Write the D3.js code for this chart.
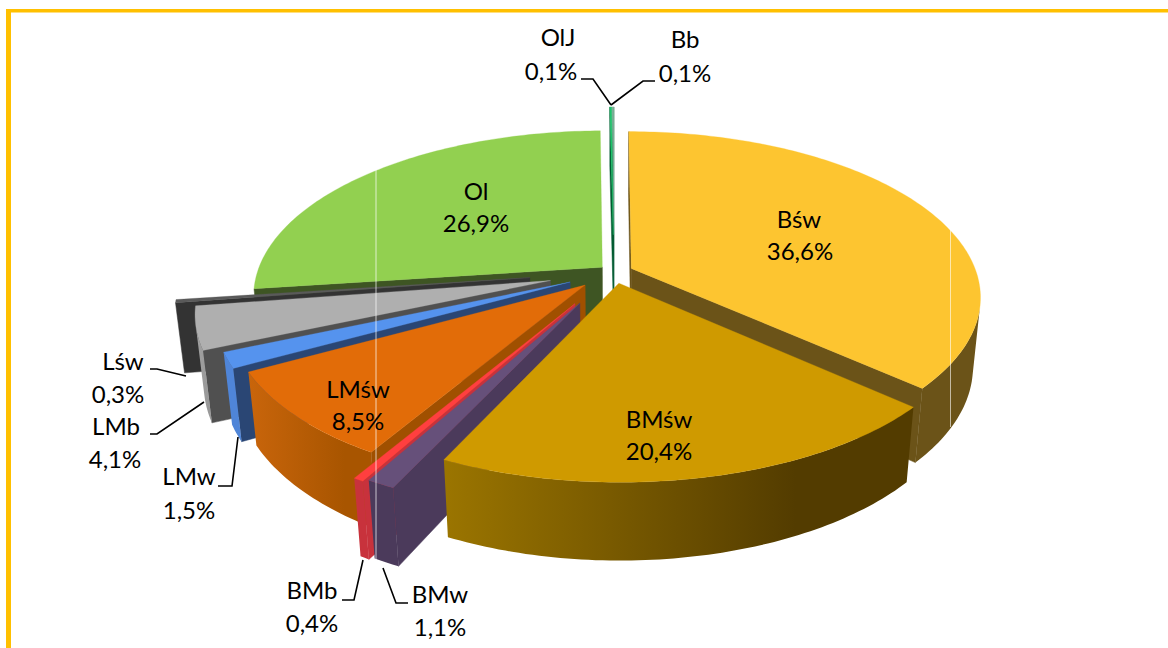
<!DOCTYPE html>
<html>
<head>
<meta charset="utf-8">
<script src="https://cdn.jsdelivr.net/npm/d3@7"></script>
<style>
  html, body { margin: 0; padding: 0; background: #fff; }
  text { font-family: Lato, "Open Sans", sans-serif; font-size: 24px; fill: #000; text-anchor: middle; }
</style>
</head>
<body>
<svg id="chart" width="1168" height="648"></svg>
<script>
// Chart values, clockwise from 12 o'clock
const categories = ['Bśw', 'BMśw', 'BMw', 'BMb', 'LMśw', 'LMw', 'LMb', 'Lśw', 'Ol', 'OlJ', 'Bb'];
const shares = [36.6, 20.4, 1.1, 0.4, 8.5, 1.5, 4.1, 0.3, 26.9, 0.1, 0.1];
const explode = [0.055, 0.07, 0.21, 0.22, 0.115, 0.14, 0.19, 0.245, 0.045, 0.24, 0.24];

// Colours per slice
const topColors = ['#fdc530', '#cf9a00', '#66507a', '#ff3f3f', '#e26c08', '#5593ee', '#afafaf', '#5a5a5a', '#92d050', '#1cc46a', '#7fb099'];
const faceColors = ['#6b5318', '#6b5318', '#4b3a5b', '#c8323c', '#a05000', '#2a4674', '#505050', '#333333', '#3e5523', '#005a30', '#005a30'];
const wallLeft = ['#6b5318', '#9b7500', '#4b3a5b', '#c8323c', '#c9650b', '#4f85d8', '#a0a0a0', '#333333', '#3e5523', '#005a30', '#005a30'];
const wallRight = ['#6b5318', '#533c00', '#4b3a5b', '#c8323c', '#a85500', '#4f85d8', '#999999', '#333333', '#3e5523', '#005a30', '#005a30'];

// Where the labels sit: [name x, name y, value x, value y]
const labelPos = [
  [799, 228, 800, 260], [659, 428, 659, 460], [440, 603, 440, 636], [312, 599, 312, 632],
  [358, 398, 358, 430], [189, 485, 189, 519], [116, 435, 115, 468], [123, 370, 118, 403],
  [476, 200, 476, 232], [558, 46, 551, 80], [685, 48, 685, 82]
];
// Leader lines, only for the small slices
const leaders = [
  [[408, 603], [396, 603], [383, 568]], [[342, 600], [354, 600], [363, 560]],
  [[218, 486], [232, 486], [238, 437]], [[150, 434], [157, 434], [204, 402]],
  [[150, 369], [157, 369], [186, 376]], [[581, 79], [593, 79], [611, 105]],
  [[655, 81], [643, 81], [611, 105]]
];

const cx = 614, cy = 272;   // pie centre on screen
const R = 345, tilt = 0.467, H = 70;  // radius, squash, thickness
const camera = 5.9, sink = 0.12;      // perspective

const svg = d3.select('#chart');
const defs = svg.append('defs');

// Gold frame of the original slide
svg.append('rect').attr('x', 6).attr('y', 9).attr('width', 1162).attr('height', 3.5).attr('fill', '#ffc000');
svg.append('rect').attr('x', 6).attr('y', 9).attr('width', 5).attr('height', 639).attr('fill', '#ffc000');

// u: right, v: towards the viewer, w: 0 on top, 1 at the bottom
function project(u, v, w) {
  const s = camera / (camera - v + sink * w);
  return [cx + R * u * s, cy + (R * tilt * v + H * w) * s];
}

const pie = d3.pie().sort(null).value(d => d);
const arcs = pie(shares).map((a, i) => {
  const mid = (a.startAngle + a.endAngle) / 2;
  return {
    i, mid,
    start: a.startAngle,
    end: a.endAngle,
    cu: explode[i] * Math.sin(mid),
    cv: -explode[i] * Math.cos(mid)
  };
});

const line = d3.line();
const rim = (d, a, w) => project(d.cu + Math.sin(a), d.cv - Math.cos(a), w);

// Back to front
const order = arcs.slice().sort((a, b) => (-Math.cos(a.mid)) - (-Math.cos(b.mid)));
const step = Math.PI / 180;

order.forEach(d => {
  const g = svg.append('g');
  const color = topColors[d.i];
  const apexT = project(d.cu, d.cv, 0);
  const apexB = project(d.cu, d.cv, 1);

  // radial faces, skip the ones turned away from us
  const startFace = [apexT, rim(d, d.start, 0), rim(d, d.start, 1), apexB];
  const endFace = [apexT, rim(d, d.end, 0), rim(d, d.end, 1), apexB];
  [startFace, endFace.slice().reverse()].forEach(f => {
    if (d3.polygonArea(f) > 0) {
      g.append('path').attr('d', line(f) + 'Z')
        .attr('fill', faceColors[d.i]).attr('stroke', faceColors[d.i]).attr('stroke-width', 0.5);
    }
  });

  // outer wall, only the stretch that faces us
  const n = Math.max(2, Math.ceil((d.end - d.start) / step));
  const angles = d3.range(n + 1).map(j => d.start + (d.end - d.start) * j / n);
  const visible = [];
  d3.range(n).forEach(j => {
    const q = [rim(d, angles[j], 0), rim(d, angles[j + 1], 0), rim(d, angles[j + 1], 1), rim(d, angles[j], 1)];
    if (d3.polygonArea(q) > 0) {
      if (!visible.length) visible.push(angles[j]);
      visible.push(angles[j + 1]);
    }
  });
  if (visible.length) {
    const wall = visible.map(a => rim(d, a, 0)).concat(visible.slice().reverse().map(a => rim(d, a, 1)));
    const xs = d3.extent(wall, p => p[0]);
    const grad = defs.append('linearGradient').attr('id', 'wall' + d.i)
      .attr('gradientUnits', 'userSpaceOnUse')
      .attr('x1', xs[0]).attr('x2', xs[1]).attr('y1', 0).attr('y2', 0);
    grad.append('stop').attr('offset', 0).attr('stop-color', wallLeft[d.i]);
    grad.append('stop').attr('offset', 0.75).attr('stop-color', wallRight[d.i]);
    g.append('path').attr('d', line(wall) + 'Z').attr('fill', 'url(#wall' + d.i + ')');
  }

  // top face
  const pts = [apexT].concat(angles.map(a => rim(d, a, 0)));
  g.append('path').attr('d', line(pts) + 'Z').attr('fill', color).attr('stroke', color).attr('stroke-width', 0.3);
});

// Thin light seams that run through the picture
svg.append('line').attr('x1', 376).attr('x2', 376).attr('y1', 168).attr('y2', 568)
  .attr('stroke', '#fff').attr('stroke-opacity', 0.7).attr('stroke-width', 1);
svg.append('line').attr('x1', 950.5).attr('x2', 950.5).attr('y1', 228).attr('y2', 427)
  .attr('stroke', '#fff').attr('stroke-opacity', 0.6).attr('stroke-width', 1);

svg.selectAll('.leader').data(leaders).enter().append('path')
  .attr('class', 'leader')
  .attr('d', d => line(d))
  .attr('fill', 'none').attr('stroke', '#000').attr('stroke-width', 1.6);

categories.forEach((name, i) => {
  const p = labelPos[i];
  svg.append('text').attr('x', p[0]).attr('y', p[1]).text(name);
  svg.append('text').attr('x', p[2]).attr('y', p[3]).text(shares[i].toFixed(1).replace('.', ',') + '%');
});
</script>
</body>
</html>
